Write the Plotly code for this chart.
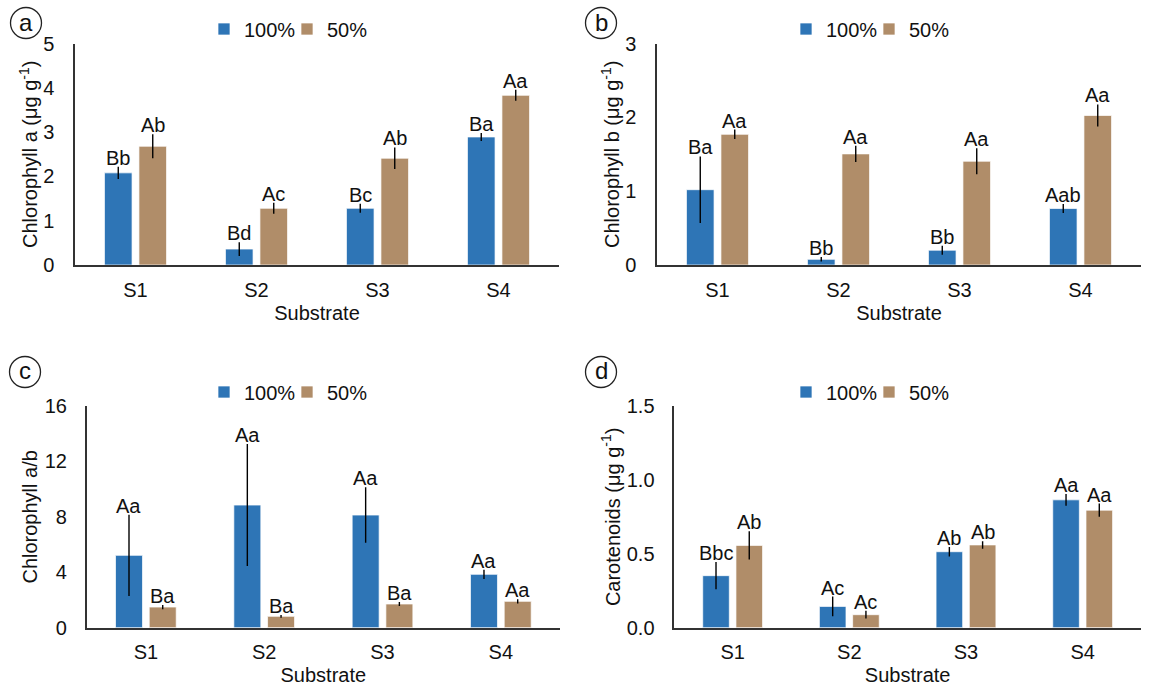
import plotly.graph_objects as go

W, H = 1152, 691

categories = ["S1", "S2", "S3", "S4"]
series_names = ["100%", "50%"]

chla_100 = [2.08, 0.36, 1.28, 2.89]
chla_100_err = [0.14, 0.155, 0.10, 0.09]
chla_50 = [2.68, 1.28, 2.41, 3.83]
chla_50_err = [0.27, 0.125, 0.245, 0.125]
chla_100_lbl = ["Bb", "Bd", "Bc", "Ba"]
chla_50_lbl = ["Ab", "Ac", "Ab", "Aa"]

chlb_100 = [1.02, 0.077, 0.20, 0.765]
chlb_100_err = [0.45, 0.03, 0.06, 0.06]
chlb_50 = [1.77, 1.505, 1.405, 2.025]
chlb_50_err = [0.065, 0.11, 0.175, 0.15]
chlb_100_lbl = ["Ba", "Bb", "Bb", "Aab"]
chlb_50_lbl = ["Aa", "Aa", "Aa", "Aa"]

ab_100 = [5.22, 8.85, 8.13, 3.85]
ab_100_err = [2.94, 4.4, 2.0, 0.33]
ab_50 = [1.49, 0.82, 1.71, 1.90]
ab_50_err = [0.15, 0.10, 0.15, 0.15]
ab_100_lbl = ["Aa", "Aa", "Aa", "Aa"]
ab_50_lbl = ["Ba", "Ba", "Ba", "Aa"]

car_100 = [0.352, 0.144, 0.514, 0.865]
car_100_err = [0.092, 0.067, 0.032, 0.04]
car_50 = [0.557, 0.088, 0.56, 0.795]
car_50_err = [0.095, 0.026, 0.025, 0.045]
car_100_lbl = ["Bbc", "Ac", "Ab", "Aa"]
car_50_lbl = ["Ab", "Ac", "Ab", "Aa"]

y_titles = ["Chlorophyll a (μg g<sup>-1</sup>)", "Chlorophyll b (μg g<sup>-1</sup>)",
            "Chlorophyll a/b", "Carotenoids (μg g<sup>-1</sup>)"]
y_ranges = [[0, 5], [0, 3], [0, 16], [0, 1.5]]
y_dticks = [1, 1, 4, 0.5]
y_formats = ["d", "d", "d", ".1f"]
panel_tags = ["a", "b", "c", "d"]
x_title = "Substrate"

COL_100 = "#2E75B6"
COL_50 = "#B08D69"
FONT = "Arial, Liberation Sans, sans-serif"
FS = 20
TXT = "#111111"

# panel boxes in pixels: (left, right, top, bottom)
boxes = [(75, 559, 43.5, 265), (657, 1141, 43.5, 265),
         (86.7, 560, 406, 627.7), (674.3, 1141, 406, 627.7)]
legend_left = [204, 786, 204, 786]
legend_cy = [29, 29, 392, 392]
circle_c = [(26, 23), (601, 23), (25, 372), (601, 372)]
ytick_standoff = [15, 15, 14, 14]
ytitle_standoff = [0, 0, 1.5, 1]

BARGAP = 0.43

panels = [
    (chla_100, chla_100_err, chla_100_lbl, chla_50, chla_50_err, chla_50_lbl),
    (chlb_100, chlb_100_err, chlb_100_lbl, chlb_50, chlb_50_err, chlb_50_lbl),
    (ab_100, ab_100_err, ab_100_lbl, ab_50, ab_50_err, ab_50_lbl),
    (car_100, car_100_err, car_100_lbl, car_50, car_50_err, car_50_lbl),
]

fig = go.Figure()
annotations = []
shapes = []
layout_axes = {}

for i, (v1, e1, l1, v2, e2, l2) in enumerate(panels):
    n = i + 1
    xa = "x" if n == 1 else f"x{n}"
    ya = "y" if n == 1 else f"y{n}"
    leg = "legend" if n == 1 else f"legend{n}"
    for name, vals, errs, col in [(series_names[0], v1, e1, COL_100),
                                  (series_names[1], v2, e2, COL_50)]:
        fig.add_trace(go.Bar(
            x=categories, y=vals, name=name, xaxis=xa, yaxis=ya, legend=leg,
            marker=dict(color=col, line=dict(color="rgba(255,255,255,0.7)", width=1)),
            error_y=dict(type="data", array=errs, visible=True, color="#000000",
                         thickness=1.4, width=0),
            offsetgroup=name,
        ))
    L, R, T, B = boxes[i]
    cat_w = (R - L) / len(categories)
    shift = cat_w * (1 - BARGAP) / 4
    for vals, errs, lbls, sgn in [(v1, e1, l1, -1), (v2, e2, l2, 1)]:
        for c, v, e, t in zip(categories, vals, errs, lbls):
            annotations.append(dict(
                x=c, y=v + e, xref=xa, yref=ya, text=t, showarrow=False,
                xshift=sgn * shift, yshift=-4, yanchor="bottom",
                font=dict(family=FONT, size=FS, color=TXT)))
    xkey = "xaxis" if n == 1 else f"xaxis{n}"
    ykey = "yaxis" if n == 1 else f"yaxis{n}"
    layout_axes[xkey] = dict(
        domain=[L / W, R / W], anchor=ya, showline=True, linecolor="#333333",
        linewidth=1.5, showgrid=False, ticks="", ticklabelstandoff=6,
        tickfont=dict(family=FONT, size=FS, color=TXT),
        title=dict(text=x_title, font=dict(family=FONT, size=FS, color=TXT), standoff=6),
        automargin=False, fixedrange=True)
    layout_axes[ykey] = dict(
        domain=[1 - B / H, 1 - T / H], anchor=xa, range=y_ranges[i], dtick=y_dticks[i],
        tickformat=y_formats[i], showline=True, linecolor="#333333", linewidth=1.5,
        showgrid=False, zeroline=False, ticks="", ticklabelstandoff=ytick_standoff[i],
        tickfont=dict(family=FONT, size=FS, color=TXT),
        title=dict(text=y_titles[i], font=dict(family=FONT, size=FS, color=TXT),
                   standoff=ytitle_standoff[i]),
        automargin=False, fixedrange=True)
    layout_axes[leg] = dict(
        orientation="h", x=legend_left[i] / W, xanchor="left",
        y=1 - legend_cy[i] / H, yanchor="middle", bgcolor="rgba(0,0,0,0)",
        font=dict(family=FONT, size=FS, color=TXT), traceorder="normal",
        itemwidth=30, entrywidthmode="pixels", entrywidth=38)
    cx, cy = circle_c[i]
    r = 15.5
    shapes.append(dict(type="circle", xref="paper", yref="paper",
                       x0=(cx - r) / W, x1=(cx + r) / W,
                       y0=1 - (cy + r) / H, y1=1 - (cy - r) / H,
                       line=dict(color="#222222", width=1.3)))
    annotations.append(dict(x=cx / W, y=1 - cy / H, xref="paper", yref="paper",
                            text=panel_tags[i], showarrow=False, xanchor="center",
                            yanchor="middle", yshift=1,
                            font=dict(family=FONT, size=24, color=TXT)))

fig.update_layout(
    width=W, height=H, margin=dict(l=0, r=0, t=0, b=0),
    paper_bgcolor="white", plot_bgcolor="white",
    barmode="group", bargap=BARGAP, bargroupgap=0.2,
    annotations=annotations, shapes=shapes,
    **layout_axes,
)

fig.write_html("out.html", config={"displayModeBar": False},
               post_script="document.body.style.margin='0px';document.body.style.padding='0px';")
